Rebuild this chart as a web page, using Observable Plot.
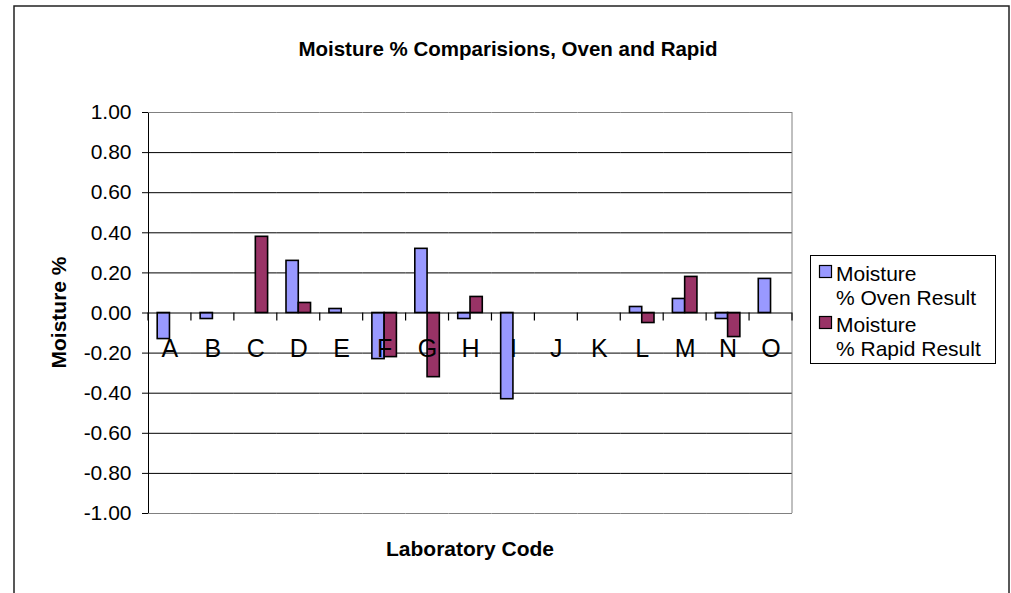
<!DOCTYPE html>
<html>
<head>
<meta charset="utf-8">
<script src="https://cdn.jsdelivr.net/npm/d3@7"></script>
<script src="https://cdn.jsdelivr.net/npm/@observablehq/plot@0.6"></script>
<style>
  html, body { margin: 0; padding: 0; background: #fff; }
  #chart { width: 1011px; height: 593px; overflow: hidden; }
</style>
</head>
<body>
<div id="chart"></div>
<script>
// ---- data ----
const categories = ["A","B","C","D","E","F","G","H","I","J","K","L","M","N","O"];
const ovenValues  = [-0.13, -0.03, null, 0.26, 0.02, -0.23, 0.32, -0.03, -0.43, null, null, 0.03, 0.07, -0.03, 0.17];
const rapidValues = [null, null, 0.38, 0.05, null, -0.22, -0.32, 0.08, null, null, null, -0.05, 0.18, -0.12, null];
const seriesNames = ["Moisture % Oven Result", "Moisture % Rapid Result"];
const seriesColors = ["#9999FF", "#993366"];
const yTicks = [1, 0.8, 0.6, 0.4, 0.2, 0, -0.2, -0.4, -0.6, -0.8, -1];
const titleText = "Moisture % Comparisions, Oven and Rapid";
const xTitle = "Laboratory Code";
const yTitle = "Moisture %";

const table = categories.flatMap((c, i) => [
  {cat: c, series: seriesNames[0], value: ovenValues[i]},
  {cat: c, series: seriesNames[1], value: rapidValues[i]}
]).filter(d => d.value != null);

const gridVals = yTicks.filter(v => v !== 0 && Math.abs(v) !== 1);
const borderVals = yTicks.filter(v => Math.abs(v) === 1);

const W = 1011, H = 593;
const FONT = "'Liberation Sans', Arial, Helvetica, sans-serif";

const plot = Plot.plot({
  width: W,
  height: H,
  marginLeft: 148,
  marginRight: 219,
  marginTop: 112,
  marginBottom: 80,
  style: {fontFamily: FONT, fontSize: "21px", color: "black", background: "white"},
  fx: {domain: categories, padding: 0, round: false, axis: null, label: null},
  x: {domain: seriesNames, paddingInner: 0, paddingOuter: 0.75, round: false, axis: null},
  y: {
    domain: [-1, 1],
    ticks: yTicks,
    tickFormat: d => d.toFixed(2),
    tickSize: 6,
    tickPadding: 11,
    line: true,
    label: null
  },
  color: {domain: seriesNames, range: seriesColors},
  marks: [
    Plot.ruleY(gridVals, {stroke: "#000", strokeWidth: 1}),
    Plot.ruleY(borderVals, {stroke: "#808080", strokeWidth: 1}),
    Plot.barY(table, {fx: "cat", x: "series", y: "value", fill: "series", stroke: "#000", strokeWidth: 1.6}),
    Plot.ruleY([0], {stroke: "#000", strokeWidth: 1}),
    Plot.text(categories, {fx: d => d, text: d => d, frameAnchor: "middle", dy: 36, fontSize: 25, fill: "#000"})
  ]
});

document.getElementById("chart").appendChild(plot);

const svg = d3.select(plot);
const fxs = plot.scale("fx");
const ys = plot.scale("y");
const yApply = v => ys.apply ? ys.apply(v) : v;
const fxApply = (c, i) => fxs.apply ? fxs.apply(c) : fxs.range[0] + i * fxs.step;
const xLeft = fxs.range[0], xRight = fxs.range[1];
const yTop = yApply(1), yBottom = yApply(-1), yZero = yApply(0);

// right border of plot area
svg.append("line")
  .attr("x1", xRight).attr("x2", xRight).attr("y1", yTop).attr("y2", yBottom)
  .attr("stroke", "#808080").attr("stroke-width", 1);

// category boundary ticks below zero line
const bounds = categories.map((c, i) => fxApply(c, i)).concat([xRight]);
svg.append("g").selectAll("line").data(bounds).join("line")
  .attr("x1", d => d).attr("x2", d => d)
  .attr("y1", yZero).attr("y2", yZero + 8)
  .attr("stroke", "#000").attr("stroke-width", 1.2);

// outer chart frame
svg.append("rect")
  .attr("x", 14).attr("y", 6).attr("width", 995).attr("height", 620)
  .attr("fill", "none").attr("stroke", "#222").attr("stroke-width", 1.5);

// title
svg.append("text")
  .attr("x", 508).attr("y", 56)
  .attr("text-anchor", "middle")
  .attr("font-family", FONT).attr("font-size", 20.5).attr("font-weight", "bold")
  .attr("fill", "#000")
  .text(titleText);

// x axis title
svg.append("text")
  .attr("x", (xLeft + xRight) / 2).attr("y", 556)
  .attr("text-anchor", "middle")
  .attr("font-family", FONT).attr("font-size", 21).attr("font-weight", "bold")
  .attr("fill", "#000")
  .text(xTitle);

// y axis title
svg.append("text")
  .attr("transform", `translate(66,${(yTop + yBottom) / 2}) rotate(-90)`)
  .attr("text-anchor", "middle")
  .attr("font-family", FONT).attr("font-size", 21).attr("font-weight", "bold")
  .attr("fill", "#000")
  .text(yTitle);

// legend
const lg = svg.append("g").attr("text-anchor", "start");
lg.append("rect")
  .attr("x", 810.5).attr("y", 255.5).attr("width", 185).attr("height", 108)
  .attr("fill", "#fff").attr("stroke", "#000").attr("stroke-width", 1);
const baselines = [[281, 305], [332, 356]];
seriesNames.forEach((name, i) => {
  const sp = name.indexOf(" ");
  const l1 = name.slice(0, sp), l2 = name.slice(sp + 1);
  const [b1, b2] = baselines[i];
  lg.append("rect")
    .attr("x", 819.5).attr("y", b1 - 15.5).attr("width", 12).attr("height", 12)
    .attr("fill", seriesColors[i]).attr("stroke", "#000").attr("stroke-width", 1.2);
  lg.append("text").attr("x", 836).attr("y", b1).attr("text-anchor", "start")
    .attr("font-family", FONT).attr("font-size", 21).attr("fill", "#000").text(l1);
  lg.append("text").attr("x", 836).attr("y", b2).attr("text-anchor", "start")
    .attr("font-family", FONT).attr("font-size", 21).attr("fill", "#000").text(l2);
});
</script>
</body>
</html>
